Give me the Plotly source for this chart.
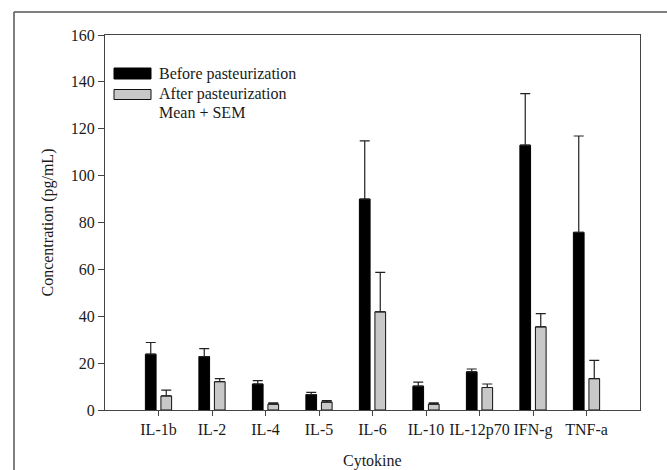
import plotly.graph_objects as go

categories = ["IL-1b", "IL-2", "IL-4", "IL-5", "IL-6", "IL-10", "IL-12p70", "IFN-g", "TNF-a"]
before_mean = [23.8, 22.8, 11.1, 6.6, 90.0, 10.2, 16.3, 113.0, 75.8]
before_sem = [5.0, 3.4, 1.4, 0.9, 24.8, 1.7, 1.2, 22.0, 41.1]
after_mean = [6.0, 12.1, 2.5, 3.4, 41.9, 2.5, 9.6, 35.5, 13.4]
after_sem = [2.5, 1.3, 0.5, 0.6, 16.8, 0.5, 1.5, 5.6, 7.8]
y_ticks = [0, 20, 40, 60, 80, 100, 120, 140, 160]

FONT = "Liberation Serif, Times New Roman, serif"
TXT = "#1a1a1a"
FS = 16

xs = list(range(len(categories)))

fig = go.Figure()
fig.add_trace(go.Bar(
    x=xs, y=before_mean, name="Before pasteurization",
    width=0.2, offset=-0.245,
    marker=dict(color="black", line=dict(color="black", width=1)),
    error_y=dict(type="data", array=before_sem, arrayminus=[0]*len(before_sem),
                 symmetric=False, color="#222", thickness=1.2, width=5),
    showlegend=False,
))
fig.add_trace(go.Bar(
    x=xs, y=after_mean, name="After pasteurization",
    width=0.2, offset=0.045,
    marker=dict(color="#c8c8c8", line=dict(color="#111", width=1)),
    error_y=dict(type="data", array=after_sem, arrayminus=[0]*len(after_sem),
                 symmetric=False, color="#222", thickness=1.2, width=5),
    showlegend=False,
))

W, H = 667, 470
L, R, T, B = 105, 27, 35, 60
pw, ph = W - L - R, H - T - B

def px(x):
    return (x - L) / pw

def py(y):
    return (H - B - y) / ph

shapes = [
    dict(type="line", xref="paper", yref="paper", x0=px(14), x1=px(680), y0=py(12), y1=py(12),
         line=dict(color="#555", width=1.5)),
    dict(type="line", xref="paper", yref="paper", x0=px(14), x1=px(14), y0=py(12), y1=py(480),
         line=dict(color="#555", width=1.5)),
    dict(type="rect", xref="paper", yref="paper", x0=px(114), x1=px(151), y0=py(79), y1=py(68),
         fillcolor="black", line=dict(color="black", width=1)),
    dict(type="rect", xref="paper", yref="paper", x0=px(114), x1=px(151), y0=py(99.5), y1=py(89.5),
         fillcolor="#c8c8c8", line=dict(color="#111", width=1)),
]

def ann(text, x, y, **kw):
    d = dict(text=text, x=px(x), y=py(y), xref="paper", yref="paper",
             xanchor="left", yanchor="middle", showarrow=False, borderpad=0,
             font=dict(family=FONT, size=FS, color=TXT))
    d.update(kw)
    return d

annotations = [
    ann("Before pasteurization", 158, 74),
    ann("After pasteurization", 158, 94.5),
    ann("Mean + SEM", 158, 113),
    ann("Cytokine", 372.5, 461, xanchor="center"),
    ann("Concentration (pg/mL)", 47, 222.5, xanchor="center", textangle=-90),
]

fig.update_layout(
    width=W, height=H,
    margin=dict(l=L, r=R, t=T, b=B, autoexpand=False),
    paper_bgcolor="white", plot_bgcolor="white",
    barmode="overlay",
    font=dict(family=FONT, size=FS, color=TXT),
    shapes=shapes, annotations=annotations,
    xaxis=dict(
        range=[-1, len(categories)], tickmode="array", tickvals=xs, ticktext=categories,
        showgrid=False, zeroline=False, showline=True, linecolor="#444", linewidth=1.2,
        mirror=True, ticks="outside", ticklen=5, tickcolor="#444", tickwidth=1.2,
        tickfont=dict(family=FONT, size=FS, color=TXT), automargin=False,
    ),
    yaxis=dict(
        range=[0, 160], tickmode="array", tickvals=y_ticks,
        showgrid=False, zeroline=False, showline=True, linecolor="#444", linewidth=1.2,
        mirror=True, ticks="outside", ticklen=6, tickcolor="#444", tickwidth=1.2,
        tickfont=dict(family=FONT, size=FS, color=TXT), automargin=False,
    ),
)

fig.write_html(
    "out.html",
    config={"displayModeBar": False},
    post_script="document.body.style.margin='0';document.body.style.overflow='hidden';",
)
